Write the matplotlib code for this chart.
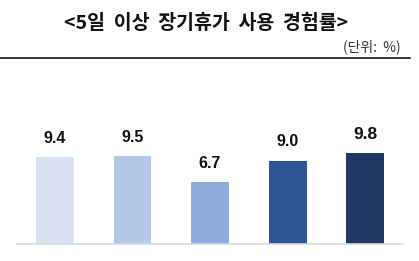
import matplotlib
matplotlib.use("Agg")
import matplotlib.pyplot as plt
from matplotlib.lines import Line2D

plt.rcParams['font.family'] = ['Noto Sans CJK KR', 'DejaVu Sans']

title = "<5일  이상  장기휴가  사용  경험률>"
unit = "(단위:  %)"
categories = ["A", "B", "C", "D", "E"]
values = [9.4, 9.5, 6.7, 9.0, 9.8]
colors = ["#D6E0F0", "#B4C7E7", "#8FAADC", "#2F5597", "#1F3864"]

W, H = 419, 261
fig = plt.figure(figsize=(W / 100, H / 100), dpi=100)
ax = fig.add_axes([17 / W, 17 / H, 386 / W, 174 / H])
x = list(range(len(values)))
ax.bar(x, values, width=0.49, color=colors)
ax.set_xlim(-0.49, 4.49)
ax.set_ylim(0, 174 / 9.27)
for i, v in enumerate(values):
    ax.annotate(f"{v:.1f}", (i, v), xytext=(0, 8), textcoords="offset points",
                ha="center", va="bottom", fontsize=12.5 if i == 4 else 11.5,
                fontweight="bold", family=["Liberation Sans", "DejaVu Sans"], color="#111111")
for s in ["top", "right", "left"]:
    ax.spines[s].set_visible(False)
ax.spines["bottom"].set_color("#D9D9D9")
ax.spines["bottom"].set_linewidth(1.2)
ax.set_xticks([])
ax.set_yticks([])

fig.text(206 / W, 1 - 23 / H, title, ha="center", va="center", fontsize=14,
         fontweight="bold", color="#111111")
fig.text(401 / W, 1 - 47 / H, unit, ha="right", va="center", fontsize=10, color="#333333")
fig.add_artist(Line2D([0, 410 / W], [1 - 58 / H, 1 - 58 / H], color="black", linewidth=1.1,
                      transform=fig.transFigure))

fig.savefig("out.png", dpi=100)
